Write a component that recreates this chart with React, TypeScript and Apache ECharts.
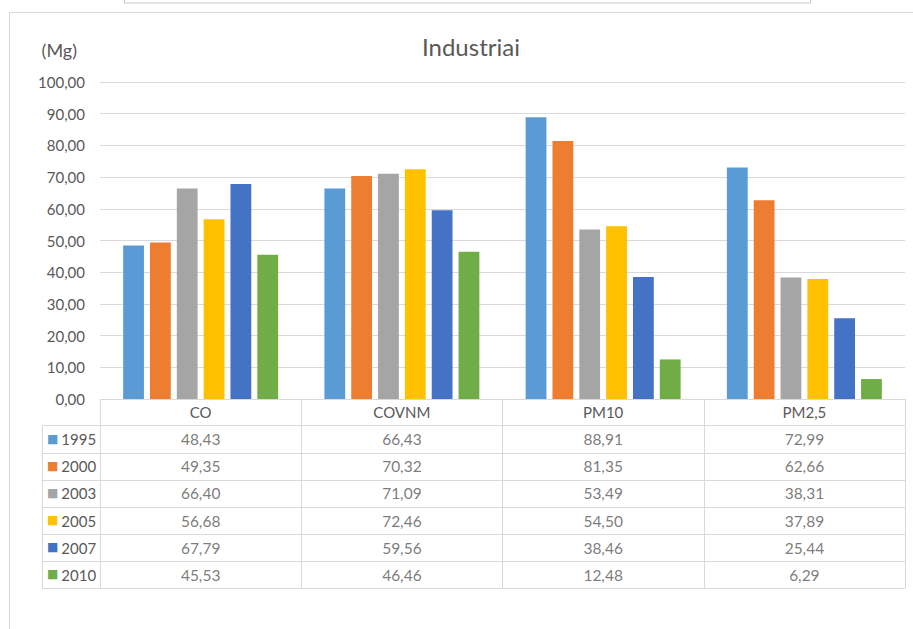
import React, { useEffect, useRef } from "react";
import * as echarts from "echarts";

const categories = ["CO", "COVNM", "PM10", "PM2,5"];
const years = ["1995", "2000", "2003", "2005", "2007", "2010"];
const colors = ["#5B9BD5", "#ED7D31", "#A5A5A5", "#FFC000", "#4472C4", "#70AD47"];
const v1995 = [48.43, 66.43, 88.91, 72.99];
const v2000 = [49.35, 70.32, 81.35, 62.66];
const v2003 = [66.4, 71.09, 53.49, 38.31];
const v2005 = [56.68, 72.46, 54.5, 37.89];
const v2007 = [67.79, 59.56, 38.46, 25.44];
const v2010 = [45.53, 46.46, 12.48, 6.29];
const seriesValues = [v1995, v2000, v2003, v2005, v2007, v2010];
const yTicks = { min: 0, max: 100, interval: 10 };

const FONT = "Lato";
const TXT = "#595959";
const LINE = "#D9D9D9";
const fmt = (v: number) => v.toFixed(2).replace(".", ",");

export default function App() {
  const ref = useRef<HTMLDivElement>(null);
  useEffect(() => {
    if (!ref.current) return;
    const chart = echarts.init(ref.current, null, { renderer: "svg" });
    const rich: any = { t: { color: TXT, fontSize: 15, fontFamily: FONT, fontWeight: "normal" } };
    colors.forEach((c, i) => {
      rich["s" + i] = { color: c, fontSize: 12, fontFamily: "DejaVu Sans", fontWeight: "normal", padding: [0, 3, 1, 0] };
    });
    const cellData: any[] = [];
    seriesValues.forEach((vals, yi) => {
      vals.forEach((v, ci) => cellData.push([ci, yi, v]));
    });
    chart.setOption({
      animation: false,
      backgroundColor: "#ffffff",
      textStyle: { fontFamily: FONT, fontWeight: "normal" },
      title: [
        {
          text: "Industriai",
          left: 417,
          top: 29,
          textStyle: { fontFamily: FONT, fontSize: 24, fontWeight: "normal", color: TXT },
        },
      ],
      graphic: [
        {
          type: "rect",
          shape: { x: 124.5, y: -10, width: 686, height: 13 },
          style: { fill: "#fff", stroke: "#C8C8C8", lineWidth: 1 },
        },
        {
          type: "polyline",
          shape: { points: [[9.5, 629], [9.5, 12.5], [913, 12.5]] },
          style: { fill: "none", stroke: "#D9D9D9", lineWidth: 1 },
        },
      ],
      grid: [
        { left: 100, top: 82, width: 805, height: 317 },
        { left: 100, top: 425.7, width: 805, height: 162.6 },
      ],
      xAxis: [
        {
          type: "category",
          gridIndex: 0,
          data: categories,
          axisLine: { lineStyle: { color: LINE } },
          axisTick: { show: true, length: 26, lineStyle: { color: LINE } },
          axisLabel: { color: TXT, fontSize: 15, fontFamily: FONT, fontWeight: "normal", margin: 5 },
        },
        {
          type: "category",
          gridIndex: 1,
          data: categories,
          axisLine: { show: false },
          axisTick: { show: false },
          axisLabel: { show: false },
          splitLine: { show: true, lineStyle: { color: LINE } },
        },
      ],
      yAxis: [
        {
          type: "value",
          gridIndex: 0,
          min: yTicks.min,
          max: yTicks.max,
          interval: yTicks.interval,
          name: "(Mg)",
          nameLocation: "end",
          nameGap: 23,
          nameTextStyle: {
            color: TXT,
            fontSize: 18,
            fontFamily: FONT,
            fontWeight: "normal",
            align: "right",
            padding: [0, 23, 0, 0],
          },
          axisLine: { show: false },
          axisTick: { show: false },
          axisLabel: {
            color: TXT,
            fontSize: 15,
            fontFamily: FONT,
            fontWeight: "normal",
            margin: 15,
            formatter: (v: number) => fmt(v),
          },
          splitLine: { lineStyle: { color: LINE } },
        },
        {
          type: "category",
          gridIndex: 1,
          data: years,
          inverse: true,
          offset: 58,
          axisLine: { show: true, lineStyle: { color: LINE } },
          axisTick: { show: true, inside: true, length: 58, lineStyle: { color: LINE } },
          axisLabel: {
            inside: true,
            margin: 5,
            fontWeight: "normal",
            formatter: (v: string, i: number) => `{s${i}|■}{t|${v}}`,
            rich,
          },
          splitLine: { show: true, lineStyle: { color: LINE } },
        },
      ],
      series: [
        ...seriesValues.map((vals, i) => ({
          name: years[i],
          type: "bar",
          xAxisIndex: 0,
          yAxisIndex: 0,
          data: vals,
          barGap: "29%",
          barCategoryGap: "23%",
          itemStyle: { color: colors[i] },
        })),
        {
          type: "scatter",
          xAxisIndex: 1,
          yAxisIndex: 1,
          data: cellData,
          symbolSize: 1,
          itemStyle: { color: "rgba(0,0,0,0)" },
          label: {
            show: true,
            position: "inside",
            color: TXT,
            fontSize: 15.5,
            fontFamily: FONT,
            fontWeight: "normal",
            formatter: (p: any) => fmt(p.value[2]),
          },
        },
      ],
    });
    return () => chart.dispose();
  }, []);
  return (
    <div
      ref={ref}
      style={{ position: "fixed", left: 0, top: 0, width: 913, height: 629 }}
    />
  );
}
